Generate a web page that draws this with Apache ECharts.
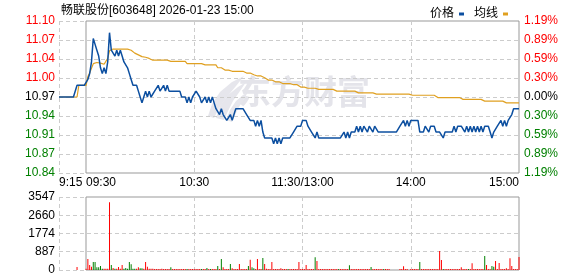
<!DOCTYPE html>
<html><head><meta charset="utf-8">
<script src="https://cdn.jsdelivr.net/npm/echarts@6/dist/echarts.min.js"></script>
<style>html,body{margin:0;padding:0;background:#fff}#c{width:578px;height:276px}</style>
</head><body><div id="c"></div>
<script>
const titleText = '畅联股份[603648] 2026-01-23 15:00';
const seriesNames = ['价格', '均线'];
const priceTicks = ['10.84','10.87','10.91','10.94','10.97','11.00','11.04','11.07','11.10'];
const pctTicks = ['1.19%','0.89%','0.59%','0.30%','0.00%','0.30%','0.59%','0.89%','1.19%'];
const volTicks = ['0','887','1774','2660','3547'];
const preTickLabels = ['9:15'];
const mainTickLabels = ['09:30','10:30','11:30/13:00','14:00','15:00'];

// pre-market 9:15..9:29
const prePrice = [10.97,10.97,10.97,10.97,10.97,10.97,10.97,10.97,10.97,10.97,10.99,10.99,10.99,10.99,10.99];
const preAvg   = [10.97,10.97,10.97,10.97,10.97,10.97,10.97,10.97,10.97,10.97,10.97,10.99,10.99,10.99,10.99];
const preVol   = [0,0,0,0,0,0,0,0,0,0,146,0,0,0,0];

// 9:30 .. 15:00 (241 minutes)
const price = [
10.99,11.00,11.01,11.03,11.07,11.06,11.05,11.04,11.02,11.01,
11.02,11.01,11.03,11.08,11.05,11.05,11.04,11.05,11.04,11.05,
11.04,11.03,11.03,11.02,11.01,11.00,10.99,10.99,10.99,10.98,
10.97,10.96,10.97,10.98,10.97,10.98,10.97,10.97,10.98,10.98,
10.99,10.98,10.98,10.99,10.98,10.99,10.98,10.98,10.98,10.98,
10.98,10.98,10.98,10.97,10.97,10.97,10.96,10.97,10.96,10.97,
10.97,10.98,10.98,10.97,10.96,10.96,10.97,10.96,10.97,10.96,
10.97,10.96,10.95,10.95,10.94,10.95,10.94,10.94,10.93,10.93,
10.94,10.93,10.94,10.95,10.95,10.95,10.95,10.95,10.95,10.94,
10.94,10.93,10.93,10.93,10.92,10.93,10.92,10.93,10.91,10.90,
10.90,10.90,10.90,10.90,10.89,10.90,10.89,10.90,10.89,10.90,
10.90,10.90,10.90,10.90,10.90,10.91,10.91,10.92,10.92,10.92,
10.93,10.93,10.93,10.92,10.92,10.91,10.91,10.90,10.91,10.90,
10.90,10.90,10.90,10.90,10.90,10.90,10.90,10.90,10.90,10.90,
10.90,10.90,10.90,10.91,10.90,10.91,10.90,10.91,10.91,10.91,
10.92,10.91,10.92,10.91,10.92,10.92,10.91,10.92,10.92,10.91,
10.92,10.92,10.91,10.91,10.91,10.91,10.91,10.91,10.91,10.91,
10.91,10.91,10.91,10.91,10.92,10.92,10.93,10.92,10.93,10.92,
10.93,10.93,10.93,10.93,10.93,10.91,10.91,10.91,10.92,10.92,
10.91,10.92,10.92,10.92,10.91,10.91,10.91,10.91,10.90,10.91,
10.91,10.91,10.91,10.91,10.92,10.91,10.92,10.92,10.92,10.92,
10.91,10.92,10.91,10.92,10.91,10.92,10.91,10.92,10.91,10.92,
10.91,10.92,10.92,10.92,10.91,10.90,10.91,10.91,10.92,10.92,
10.93,10.92,10.93,10.92,10.93,10.93,10.94,10.95,10.95,10.95,
10.95];

const avg = [
10.990,11.005,11.011,11.019,11.027,11.029,11.029,11.029,11.028,11.027,
11.026,11.026,11.036,11.049,11.052,11.052,11.052,11.052,11.052,11.052,
11.052,11.052,11.052,11.052,11.052,11.050,11.048,11.045,11.044,11.042,
11.040,11.039,11.039,11.038,11.037,11.036,11.035,11.033,11.033,11.033,
11.033,11.033,11.033,11.033,11.033,11.033,11.031,11.031,11.031,11.031,
11.031,11.031,11.031,11.031,11.031,11.031,11.027,11.027,11.027,11.027,
11.027,11.027,11.027,11.027,11.027,11.027,11.025,11.025,11.025,11.025,
11.025,11.025,11.025,11.020,11.020,11.020,11.020,11.016,11.016,11.016,
11.016,11.014,11.014,11.014,11.014,11.014,11.014,11.014,11.014,11.011,
11.011,11.011,11.011,11.008,11.008,11.006,11.006,11.006,11.003,11.003,
11.003,10.999,10.999,10.999,10.996,10.996,10.996,10.996,10.993,10.993,
10.993,10.993,10.993,10.993,10.991,10.991,10.991,10.991,10.991,10.987,
10.987,10.987,10.985,10.985,10.985,10.985,10.985,10.985,10.985,10.983,
10.983,10.983,10.983,10.983,10.983,10.983,10.983,10.983,10.983,10.980,
10.980,10.980,10.980,10.980,10.980,10.980,10.980,10.980,10.980,10.980,
10.980,10.977,10.977,10.977,10.977,10.977,10.977,10.977,10.977,10.977,
10.977,10.975,10.975,10.975,10.975,10.975,10.975,10.975,10.975,10.975,
10.975,10.975,10.975,10.975,10.975,10.975,10.975,10.975,10.975,10.975,
10.973,10.973,10.973,10.973,10.973,10.973,10.973,10.973,10.973,10.973,
10.973,10.973,10.973,10.973,10.973,10.969,10.969,10.969,10.969,10.969,
10.969,10.969,10.969,10.969,10.969,10.969,10.969,10.969,10.969,10.966,
10.966,10.966,10.966,10.966,10.966,10.966,10.966,10.966,10.966,10.966,
10.963,10.963,10.963,10.963,10.963,10.963,10.963,10.963,10.963,10.963,
10.963,10.963,10.960,10.960,10.960,10.960,10.960,10.960,10.960,10.960,
10.960];

const volume = [
60,535,243,162,390,390,130,130,195,65,
60,60,60,3290,243,100,60,60,146,60,
243,60,100,60,390,275,60,60,60,130,
80,80,60,390,162,60,60,60,50,50,
50,50,60,50,50,50,50,130,50,50,
50,50,50,50,50,50,50,50,50,50,
50,50,50,50,50,50,50,100,50,50,
50,50,50,195,50,535,130,50,50,50,
290,80,50,50,50,290,50,50,50,50,
195,500,130,80,50,535,50,50,583,290,
60,50,50,390,50,50,50,50,80,50,
50,50,50,50,50,50,50,50,390,50,
50,50,243,50,50,50,50,615,437,50,
50,50,50,50,50,50,50,50,50,50,
50,50,50,50,50,50,227,50,50,50,
50,50,50,50,50,50,50,50,146,50,
50,50,50,50,50,50,50,50,50,0,
0,0,0,0,50,50,178,50,50,0,
50,50,50,50,50,390,50,50,50,50,
50,50,50,50,50,50,923,486,50,50,
50,50,50,50,50,50,50,50,130,50,
50,50,50,50,324,50,50,50,50,50,
50,680,243,50,50,195,162,437,50,340,
50,50,50,80,50,567,195,50,50,50,
632];
// minutes (from 9:30) whose volume bar is green (down)
const downMinutes = [4,5,6,7,8,9,14,16,21,22,23,24,25,26,27,30,31,47,56,64,67,69,73,75,80,90,92,93,98,112,127,140,146,158,165,185,198,212,221,225,226];

function hm(t){const h=Math.floor(t/60),m=t%60;return h+':'+(m<10?'0':'')+m;}
const categories=[];
for(let t=9*60+15;t<=11*60+30;t++) categories.push(hm(t));
for(let t=13*60+1;t<=15*60;t++) categories.push(hm(t));
const mainCats = categories.slice(15);

const priceAll = prePrice.concat(price);
const avgAll = preAvg.concat(avg);
const volAll = preVol.concat(volume).map((v,i)=>({
  value:v,
  itemStyle:{color: (i>=15 && downMinutes.indexOf(i-15)>=0) ? '#008000' : '#ff0000'}
}));

const splitIdx = [0,75,135,195];
const dash = {color:'#cccccc', type:[4,3], width:1};
const FONT = 'Liberation Sans, Noto Sans CJK SC, sans-serif';
const lblColor = (v,i)=> i>4 ? '#ff0000' : (i<4 ? '#008000' : '#000000');

const chart = echarts.init(document.getElementById('c'), null, {renderer:'canvas'});
chart.setOption({
  animation:false,
  backgroundColor:'#ffffff',
  title:{text:titleText,left:56,top:0,textStyle:{fontSize:12,fontWeight:'normal',color:'#000',fontFamily:FONT}},
  legend:{data:seriesNames,right:65,top:3,icon:'rect',itemWidth:5,itemHeight:3,itemGap:10,align:'right',
    textStyle:{fontSize:12,color:'#000',fontFamily:FONT}},
  grid:[
    {left:59,right:59,top:21,height:152},
    {left:86,right:59,top:21,height:152,show:true,borderColor:'#999',borderWidth:1,backgroundColor:'transparent'},
    {left:59,right:59,top:197,height:73},
    {left:86,right:59,top:197,height:73,show:true,borderColor:'#999',borderWidth:1,backgroundColor:'transparent'}
  ],
  xAxis:[
    {gridIndex:0,type:'category',data:categories,boundaryGap:false,
      axisLine:{show:false},axisTick:{show:false},
      axisLabel:{interval:(i)=>i===0,formatter:(v,i)=>preTickLabels[0],alignMinLabel:'left',margin:4,fontSize:12,color:'#000',fontFamily:FONT},
      splitLine:{show:true,interval:(i)=>splitIdx.indexOf(i)>=0,lineStyle:dash}},
    {gridIndex:1,type:'category',data:mainCats,boundaryGap:false,
      axisLine:{show:false},axisTick:{show:false},splitLine:{show:false},
      axisLabel:{interval:(i)=>i%60===0,formatter:(v,i)=>mainTickLabels[Math.round(i/60)],alignMinLabel:'left',alignMaxLabel:'right',
        margin:4,fontSize:12,color:'#000',fontFamily:FONT}},
    {gridIndex:2,type:'category',data:categories,boundaryGap:false,
      axisLine:{show:false},axisTick:{show:false},axisLabel:{show:false},
      splitLine:{show:true,interval:(i)=>splitIdx.indexOf(i)>=0,lineStyle:dash}},
    {gridIndex:3,type:'category',data:mainCats,show:false}
  ],
  yAxis:[
    {gridIndex:0,type:'value',min:10.84,max:11.10,interval:0.0325,position:'left',
      axisLine:{show:false},axisTick:{show:false},splitLine:{show:true,lineStyle:dash},
      axisLabel:{margin:4,fontSize:12,fontFamily:FONT,formatter:(v,i)=>priceTicks[i],color:lblColor}},
    {gridIndex:0,type:'value',min:10.84,max:11.10,interval:0.0325,position:'right',
      axisLine:{show:false},axisTick:{show:false},splitLine:{show:false},
      axisLabel:{margin:5,fontSize:12,fontFamily:FONT,formatter:(v,i)=>pctTicks[i],color:lblColor}},
    {gridIndex:1,type:'value',show:false,min:0,max:1},
    {gridIndex:2,type:'value',min:0,max:3547,interval:886.75,
      axisLine:{show:false},axisTick:{show:false},splitLine:{show:true,lineStyle:dash},
      axisLabel:{margin:4,fontSize:12,fontFamily:FONT,color:'#000',formatter:(v,i)=>volTicks[i]}},
    {gridIndex:3,type:'value',show:false,min:0,max:1}
  ],
  graphic:[
    {type:'group',silent:true,z:1,children:[
      {type:'polygon',shape:{points:[[208,116],[212,104],[220,92],[232,82],[244,76],[236,86],[226,98],[219,108],[214,118]]},style:{fill:'#e6e6ec'}},
      {type:'polygon',shape:{points:[[216,118],[220,106],[228,95],[238,87],[246,82],[240,91],[233,101],[228,111],[224,120]]},style:{fill:'#e6e6ec'}},
      {type:'polygon',shape:{points:[[226,120],[230,110],[236,101],[243,95],[248,92],[244,99],[239,107],[235,115],[232,122]]},style:{fill:'#e6e6ec'}},
      {type:'text',x:238,y:75,style:{text:'东方财富',font:'bold 33px "Noto Sans CJK SC"',fill:'#e4e4ea'}}
    ]}
  ],
  series:[
    {name:'均线',type:'line',xAxisIndex:0,yAxisIndex:0,data:avgAll,symbol:'none',z:3,
      itemStyle:{color:'#e0a020'},lineStyle:{color:'#e0a020',width:1.2}},
    {name:'价格',type:'line',xAxisIndex:0,yAxisIndex:0,data:priceAll,symbol:'none',z:4,
      itemStyle:{color:'#0c4fa0'},lineStyle:{color:'#0c4fa0',width:1.5}},
    {name:'成交量',type:'bar',xAxisIndex:2,yAxisIndex:3,data:volAll,barWidth:1,z:3}
  ]
});
</script></body></html>
